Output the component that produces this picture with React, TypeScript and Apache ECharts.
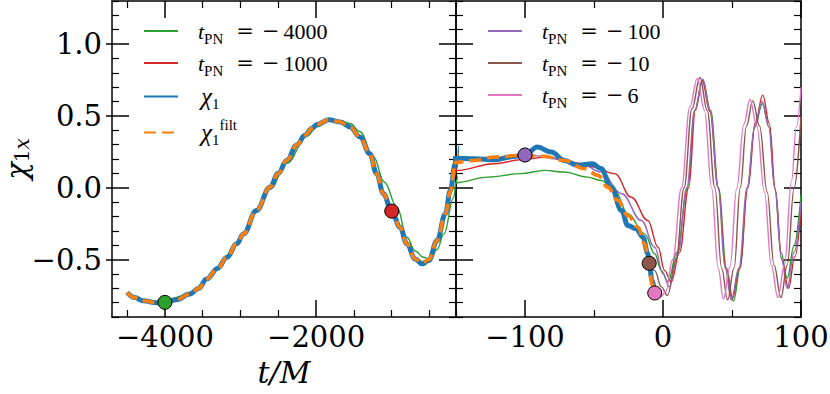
import React, { useEffect, useRef } from "react";
import * as echarts from "echarts";

// ---------- ticks ----------
const xMajorLeft = [-4000, -2000];
const xMinorLeft = [-4500, -3500, -3000, -2500, -1500, -1000, -500];
const xMajorRight = [-100, 0, 100];
const xMinorRight = [-150, -50, 50];
const yMajor = [-0.5, 0, 0.5, 1.0];
const yMinor = [-0.9, -0.8, -0.7, -0.6, -0.4, -0.3, -0.2, -0.1, 0.1, 0.2, 0.3, 0.4, 0.6, 0.7, 0.8, 0.9, 1.1, 1.2, 1.3];

// ---------- PN start times (markers / legend) ----------
const tPN = [-4000, -1000, -100, -10, -6];
const markerV = [-0.798, -0.163, 0.228, -0.526, -0.733];

// ---------- chi_1 (thick blue) ----------
const blueT = [-4500, -4400, -4290, -4110, -4000, -3850, -3670, -3550, -3450, -3300, -3180, -3050, -2960, -2790, -2610, -2500, -2390, -2250, -2150, -2050, -1990, -1830, -1680, -1550, -1420, -1290, -1200, -1110, -1000, -890, -800, -690, -600, -510, -400, -290, -225, -160, -150, -137, -122, -110, -100, -91, -81, -71.5, -62, -51, -45, -37.5, -30, -25.5, -19.4, -14.5, -11, -10, -8, -6];
const blueV = [-0.729, -0.765, -0.787, -0.8, -0.798, -0.78, -0.74, -0.7, -0.635, -0.56, -0.484, -0.39, -0.321, -0.158, 0.004, 0.1, 0.19, 0.3, 0.365, 0.415, 0.44, 0.474, 0.458, 0.423, 0.353, 0.237, 0.098, -0.042, -0.163, -0.275, -0.391, -0.496, -0.53, -0.507, -0.368, -0.181, -0.019, 0.167, 0.205, 0.202, 0.195, 0.215, 0.228, 0.283, 0.248, 0.19, 0.156, 0.167, 0.133, 0.004, -0.158, -0.263, -0.286, -0.345, -0.46, -0.526, -0.64, -0.733];

// ---------- chi_1 filtered (orange dashed) ----------
const orangeT = [-4500, -4400, -4290, -4110, -4000, -3850, -3670, -3550, -3450, -3300, -3180, -3050, -2960, -2790, -2610, -2500, -2390, -2250, -2150, -2050, -1990, -1830, -1680, -1550, -1420, -1290, -1200, -1110, -1000, -890, -800, -690, -600, -510, -400, -290, -225, -160, -150, -137, -122, -103, -86, -71.5, -57, -47, -40, -32.7, -25.5, -18, -13.3, -9.7, -8, -6];
const orangeV = [-0.729, -0.765, -0.787, -0.8, -0.798, -0.78, -0.74, -0.7, -0.635, -0.56, -0.484, -0.39, -0.321, -0.158, 0.004, 0.1, 0.19, 0.3, 0.365, 0.415, 0.44, 0.474, 0.458, 0.423, 0.353, 0.237, 0.098, -0.042, -0.163, -0.275, -0.391, -0.496, -0.525, -0.5, -0.368, -0.181, -0.025, 0.155, 0.175, 0.19, 0.214, 0.225, 0.218, 0.19, 0.133, 0.086, 0.004, -0.089, -0.193, -0.275, -0.391, -0.577, -0.67, -0.73];

// ---------- t_PN = -4000 (green) ----------
const greenT = [-4000, -3670, -3450, -3180, -2960, -2790, -2610, -2390, -2120, -1990, -1830, -1680, -1550, -1420, -1240, -1100, -930, -800, -690, -580, -490, -400, -310, -180, -150, -127, -103, -86, -71.5, -54.5, -45, -35, -25.5, -13.3, -6, -1.2, 3.7, 10, 17.9, 23, 28.8, 34.5, 40.2, 46, 51, 56, 61, 66.5, 72, 77, 81, 85.5, 90, 95, 100];
const greenV = [-0.798, -0.745, -0.64, -0.49, -0.33, -0.17, -0.01, 0.17, 0.36, 0.425, 0.468, 0.465, 0.447, 0.39, 0.214, 0.04, -0.135, -0.345, -0.44, -0.484, -0.496, -0.43, -0.321, -0.066, 0.035, 0.074, 0.098, 0.121, 0.109, 0.074, 0.051, -0.019, -0.181, -0.321, -0.46, -0.577, -0.655, -0.45, 0.0, 0.54, 0.75, 0.54, 0.0, -0.56, -0.79, -0.56, 0.0, 0.42, 0.585, 0.42, 0.0, -0.45, -0.63, -0.4, -0.05];

// ---------- t_PN = -1000 (red) ----------
const redT = [-1000, -890, -800, -690, -600, -510, -400, -290, -225, -160, -150, -122, -103, -84, -67, -50, -35, -23, -11, -3.6, 1.2, 6, 12, 18.6, 23.5, 28.4, 34, 40, 45.5, 50, 55.5, 61.5, 67, 72.3, 77, 81.5, 86, 91, 95.5, 100];
const redV = [-0.163, -0.275, -0.391, -0.496, -0.53, -0.507, -0.368, -0.181, -0.03, 0.09, 0.12, 0.167, 0.195, 0.214, 0.179, 0.144, 0.098, -0.066, -0.228, -0.414, -0.577, -0.655, -0.45, 0.0, 0.54, 0.745, 0.53, 0.0, -0.56, -0.78, -0.56, 0.0, 0.46, 0.645, 0.45, -0.02, -0.5, -0.7, -0.48, -0.15];

// ---------- t_PN = -100 (purple) ----------
const purpleT = [-100, -91, -79, -59, -45, -30, -15.7, -6, 0, 4.5, 11, 17.2, 23, 28.8, 34, 40, 45, 49.5, 55, 61, 66.5, 71.8, 76.5, 81, 86, 90, 95, 100];
const purpleV = [0.228, 0.222, 0.202, 0.167, 0.109, -0.042, -0.228, -0.414, -0.6, -0.69, -0.45, 0.0, 0.54, 0.756, 0.54, 0.0, -0.56, -0.78, -0.56, 0.0, 0.43, 0.6, 0.43, 0.0, -0.5, -0.7, -0.45, -0.1];

// ---------- t_PN = -10 (brown) ----------
const brownT = [-10, -6, -1.2, 3.2, 9.5, 15.3, 21, 26.8, 32, 37.6, 42.5, 46.8, 51.5, 56, 60.5, 65, 70, 75.5, 80.5, 85.5, 90, 95, 100];
const brownV = [-0.526, -0.577, -0.69, -0.75, -0.5, 0.0, 0.55, 0.767, 0.54, 0.0, -0.56, -0.78, -0.56, 0.0, 0.43, 0.605, 0.43, -0.03, -0.54, -0.765, -0.54, 0.0, 0.5];

// ---------- t_PN = -6 (pink) ----------
const pinkT = [-6, -3, -1, 2, 7, 13.4, 19.4, 24.8, 30, 35.2, 40, 43.8, 48.5, 53.5, 58.5, 63, 68, 73.5, 78.5, 83.2, 88, 93.2, 96.5, 100];
const pinkV = [-0.733, -0.75, -0.756, -0.72, -0.5, 0.0, 0.56, 0.76, 0.54, 0.0, -0.56, -0.775, -0.55, 0.0, 0.44, 0.614, 0.43, -0.03, -0.54, -0.765, -0.54, 0.05, 0.42, 0.7];

// ---------- styles ----------
const C = {
  blue: "#1f77b4",
  orange: "#ff7f0e",
  green: "#2ca02c",
  red: "#d62728",
  purple: "#9467bd",
  brown: "#8c564b",
  pink: "#e377c2",
};
const markerColors = [C.green, C.red, C.purple, C.brown, C.pink];
const BLACK = "#000";
const MINUS = "\u2212";

const pnName = (v: number) => `t_PN = ${MINUS}${Math.abs(v)}`;
const NAME_CHI = "χ_1";
const NAME_FILT = "χ_1^filt";

const zip = (t: number[], v: number[]) => t.map((x, i) => [x, v[i]]);

function buildOption() {
  const grids = [
    { left: 112, top: 1, width: 344, height: 316, outerBoundsMode: "none" },
    { left: 456, top: 1, width: 345, height: 316, outerBoundsMode: "none" },
  ];

  const tickAxis = (
    gridIndex: number,
    min: number,
    max: number,
    position: string,
    values: number[],
    len: number,
    width: number,
    opts: any = {}
  ) => ({
    type: "value",
    gridIndex,
    min,
    max,
    position,
    splitLine: { show: false },
    axisLine: { show: !!opts.line, onZero: false, lineStyle: { color: BLACK, width: 1.5 } },
    axisTick: {
      show: true,
      inside: !opts.out,
      length: len,
      customValues: values,
      lineStyle: { color: BLACK, width },
    },
    axisLabel: opts.label ? opts.label : { show: false },
    ...(opts.extra || {}),
  });

  const xLabel = (vals: number[]) => ({
    show: true,
    customValues: vals,
    formatter: (v: number) => String(v).replace("-", MINUS),
    fontFamily: "DejaVu Serif",
    fontSize: 29,
    color: BLACK,
    margin: 5,
  });

  const xAxis = [
    tickAxis(0, -4700, -150, "bottom", xMajorLeft, 17, 1.5, {
      line: true,
      label: xLabel(xMajorLeft),
      extra: {
        name: "t/M",
        nameLocation: "middle",
        nameGap: 40,
        nameMoveOverlap: false,
        nameTextStyle: { fontFamily: "DejaVu Serif", fontStyle: "italic", fontSize: 30, color: BLACK },
      },
    }),
    tickAxis(0, -4700, -150, "bottom", xMinorLeft, 7, 1.2),
    tickAxis(0, -4700, -150, "top", xMajorLeft, 17, 1.5, { line: true }),
    tickAxis(0, -4700, -150, "top", xMinorLeft, 7, 1.2),
    tickAxis(1, -150, 100, "bottom", xMajorRight, 17, 1.5, { line: true, label: xLabel(xMajorRight) }),
    tickAxis(1, -150, 100, "bottom", xMinorRight, 7, 1.2),
    tickAxis(1, -150, 100, "top", xMajorRight, 17, 1.5, { line: true }),
    tickAxis(1, -150, 100, "top", xMinorRight, 7, 1.2),
  ];

  const yAxis = [
    tickAxis(0, -0.9, 1.3, "left", yMajor, 17, 1.5, {
      line: true,
      label: {
        show: true,
        customValues: yMajor,
        formatter: (v: number) => v.toFixed(1).replace("-", MINUS),
        fontFamily: "DejaVu Serif",
        fontSize: 29,
        color: BLACK,
        margin: 10,
      },
      extra: {
        name: "{chi|χ}{s1|1}{sx|x}",
        nameLocation: "middle",
        nameRotate: 90,
        nameGap: 80,
        nameMoveOverlap: false,
        nameTextStyle: {
          rich: {
            chi: { fontFamily: "DejaVu Serif", fontStyle: "italic", fontSize: 29, lineHeight: 30, color: BLACK },
            s1: { fontFamily: "DejaVu Serif", fontSize: 20, lineHeight: 16, verticalAlign: "bottom", color: BLACK },
            sx: { fontFamily: "DejaVu Serif", fontStyle: "italic", fontSize: 20, lineHeight: 16, verticalAlign: "bottom", color: BLACK },
          },
        },
      },
    }),
    tickAxis(0, -0.9, 1.3, "left", yMajor, 6, 1.5, { out: true }),
    tickAxis(0, -0.9, 1.3, "left", yMinor, 7, 1.2),
    tickAxis(0, -0.9, 1.3, "right", yMajor, 17, 1.5, { line: true }),
    tickAxis(0, -0.9, 1.3, "right", yMinor, 7, 1.2),
    tickAxis(1, -0.9, 1.3, "left", yMajor, 17, 1.5, { line: true }),
    tickAxis(1, -0.9, 1.3, "left", yMinor, 7, 1.2),
    tickAxis(1, -0.9, 1.3, "right", yMajor, 17, 1.5, { line: true }),
    tickAxis(1, -0.9, 1.3, "right", yMinor, 7, 1.2),
  ];

  const panels = [
    { x: 0, y: 0 },
    { x: 4, y: 5 },
  ];

  const lineDefs = [
    { name: pnName(tPN[0]), t: greenT, v: greenV, color: C.green, width: 1.4 },
    { name: pnName(tPN[1]), t: redT, v: redV, color: C.red, width: 1.4 },
    { name: pnName(tPN[2]), t: purpleT, v: purpleV, color: C.purple, width: 1.4 },
    { name: pnName(tPN[3]), t: brownT, v: brownV, color: C.brown, width: 1.4 },
    { name: pnName(tPN[4]), t: pinkT, v: pinkV, color: C.pink, width: 1.4 },
    { name: NAME_CHI, t: blueT, v: blueV, color: C.blue, width: 5 },
    { name: NAME_FILT, t: orangeT, v: orangeV, color: C.orange, width: 3.6, dash: [12, 6] },
  ];

  const series: any[] = [];
  panels.forEach((p) => {
    lineDefs.forEach((d) => {
      series.push({
        type: "line",
        name: d.name,
        xAxisIndex: p.x,
        yAxisIndex: p.y,
        data: zip(d.t, d.v),
        symbol: "none",
        showSymbol: false,
        smooth: 0.4,
        smoothMonotone: "x",
        clip: true,
        color: d.color,
        lineStyle: { color: d.color, width: d.width, type: d.dash || "solid" },
        emphasis: { disabled: true },
        z: 2,
      });
    });
    series.push({
      type: "scatter",
      name: "markers",
      xAxisIndex: p.x,
      yAxisIndex: p.y,
      clip: true,
      symbol: "circle",
      symbolSize: 14,
      data: tPN.map((t, i) => ({
        value: [t, markerV[i]],
        itemStyle: { color: markerColors[i], borderColor: BLACK, borderWidth: 1, opacity: 1 },
      })),
      itemStyle: { opacity: 1 },
      emphasis: { disabled: true },
      z: 5,
    });
  });

  const rich = {
    t0: { fontFamily: "Liberation Serif", fontStyle: "italic", fontSize: 22, lineHeight: 30, padding: [0, 0, 0, 15], color: BLACK },
    sub: { fontFamily: "Liberation Serif", fontSize: 15, lineHeight: 16, verticalAlign: "bottom", color: BLACK },
    eq: { fontFamily: "DejaVu Serif", fontSize: 21, lineHeight: 30, padding: [0, 0, 0, 13], color: BLACK },
    mi: { fontFamily: "DejaVu Serif", fontSize: 21, lineHeight: 30, padding: [0, 0, 0, 8], color: BLACK },
    num: { fontFamily: "Liberation Serif", fontSize: 22, lineHeight: 30, padding: [0, 0, 0, 4], color: BLACK },
    c0: { fontFamily: "Liberation Serif", fontStyle: "italic", fontSize: 25, lineHeight: 30, padding: [0, 0, 0, 18], color: BLACK },
    sup: { fontFamily: "Liberation Serif", fontSize: 15, lineHeight: 18, verticalAlign: "top", color: BLACK },
  };

  const legendFormatter = (name: string) => {
    if (name === NAME_CHI) return "{c0|χ}{sub|1}";
    if (name === NAME_FILT) return "{c0|χ}{sub|1}{sup|filt}";
    const num = name.split(MINUS)[1];
    return `{t0|t}{sub|PN}{eq|=}{mi|${MINUS}}{num|${num}}`;
  };

  const legendBase = {
    orient: "vertical",
    top: 20,
    itemWidth: 34,
    itemHeight: 14,
    itemGap: 6,
    padding: 0,
    selectedMode: false,
    formatter: legendFormatter,
    itemStyle: { opacity: 0 },
    textStyle: { color: BLACK, rich },
  };

  const legend = [
    { ...legendBase, left: 143, data: [pnName(tPN[0]), pnName(tPN[1]), NAME_CHI, NAME_FILT] },
    { ...legendBase, left: 487, data: [pnName(tPN[2]), pnName(tPN[3]), pnName(tPN[4])] },
  ];

  return {
    animation: false,
    backgroundColor: "#fff",
    grid: grids,
    xAxis,
    yAxis,
    legend,
    series,
  };
}

export default function App() {
  const ref = useRef<HTMLDivElement>(null);
  useEffect(() => {
    document.body.style.margin = "0";
    const chart = echarts.init(ref.current!, null, { renderer: "svg" });
    chart.setOption(buildOption() as any);
    return () => chart.dispose();
  }, []);
  return <div ref={ref} style={{ width: 830, height: 394 }} />;
}
